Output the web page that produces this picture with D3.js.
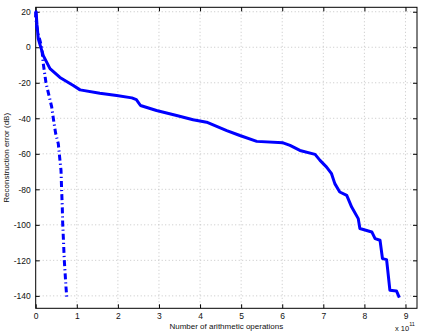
<!DOCTYPE html>
<html><head><meta charset="utf-8">
<script src="https://cdn.jsdelivr.net/npm/d3@7"></script>
<style>body{margin:0;background:#fff}svg{display:block}text{font-family:"Liberation Sans",Arial,sans-serif}</style>
</head><body><svg id="c" width="422" height="332"></svg>
<script>
const xTicks=[0,1,2,3,4,5,6,7,8,9];
const yTicks=[20,0,-20,-40,-60,-80,-100,-120,-140];
// solid series: x in 1e11 ops, y in dB
const solidX=[0.0,0.01,0.03,0.063,0.185,0.348,0.59,0.915,1.08,1.56,1.97,2.34,2.45,2.55,2.94,3.43,3.83,4.16,4.65,4.97,5.38,6.02,6.19,6.43,6.80,6.92,7.08,7.20,7.28,7.40,7.57,7.69,7.85,7.89,8.18,8.26,8.38,8.44,8.54,8.62,8.78,8.85];
const solidY=[17,20,13,4.7,-4.7,-12,-17,-21.5,-24,-25.9,-27.2,-28.5,-29.5,-32.8,-35.6,-38.4,-40.8,-42.2,-46.9,-49.7,-53,-53.8,-55.3,-58.1,-60.3,-63.7,-67.5,-71.2,-76.8,-81.5,-83.4,-90,-96.5,-102.1,-104,-107.8,-108.7,-119,-119.6,-136.8,-137.2,-141];
// dash-dot series
const dashX=[0.0,0.02,0.063,0.146,0.185,0.25,0.39,0.43,0.487,0.55,0.574,0.616,0.63,0.647,0.657,0.672,0.696,0.737,0.755];
const dashY=[20,12,7.5,0,-9.3,-20,-33.7,-40.3,-48.7,-54.3,-60,-69.3,-79.6,-90,-99.3,-106.9,-120,-135,-140.6];

const svg=d3.select("#c");
const L=35.7,R=417,T=7.3,B=308.3;
const x=d3.scaleLinear().domain([0,9.28]).range([L,R]);
const y=d3.scaleLinear().domain([-147,22.5]).range([B,T]);

// grid
const g=svg.append("g").attr("stroke","#b8b8b8").attr("stroke-width",0.8).attr("stroke-dasharray","1,2.5");
xTicks.forEach(t=>{ if(t>0) g.append("line").attr("x1",x(t)).attr("x2",x(t)).attr("y1",T).attr("y2",B);});
yTicks.forEach(t=>g.append("line").attr("x1",L).attr("x2",R).attr("y1",y(t)).attr("y2",y(t)));

const fs="8.5px";
const ax=svg.append("g").attr("transform",`translate(0,${B})`).call(d3.axisBottom(x).tickValues(xTicks).tickSize(-4).tickPadding(5).tickFormat(d3.format("d")));
const axT=svg.append("g").attr("transform",`translate(0,${T})`).call(d3.axisTop(x).tickValues(xTicks).tickSize(-4).tickFormat(""));
const ay=svg.append("g").attr("transform",`translate(${L},0)`).call(d3.axisLeft(y).tickValues(yTicks).tickSize(-4).tickPadding(5).tickFormat(d=>String(d).replace("−","-")));
const ayR=svg.append("g").attr("transform",`translate(${R},0)`).call(d3.axisRight(y).tickValues(yTicks).tickSize(-4).tickFormat(""));
[ax,axT,ay,ayR].forEach(a=>{a.select(".domain").remove();a.selectAll("line").attr("stroke","#000");a.selectAll("text").attr("font-size",fs).attr("fill","#111").attr("font-family","Liberation Sans, Arial, sans-serif");});
svg.append("rect").attr("x",L).attr("y",T).attr("width",R-L).attr("height",B-T).attr("fill","none").attr("stroke","#000").attr("stroke-width",1);

const line=d3.line().x(d=>x(d[0])).y(d=>y(d[1]));
svg.append("path").datum(solidX.map((v,i)=>[v,solidY[i]])).attr("d",line).attr("fill","none").attr("stroke","#0000ff").attr("stroke-width",3).attr("stroke-linejoin","round");
svg.append("path").datum(dashX.map((v,i)=>[v,dashY[i]])).attr("d",line).attr("fill","none").attr("stroke","#0000ff").attr("stroke-width",3).attr("stroke-dasharray","6,3,1.2,3");

svg.append("text").attr("x",(L+R)/2).attr("y",329).attr("text-anchor","middle").attr("font-size","8px").attr("fill","#111").text("Number of arithmetic operations");
svg.append("text").attr("transform",`translate(9,${(T+B)/2}) rotate(-90)`).attr("text-anchor","middle").attr("font-size","8px").attr("fill","#111").text("Reconstruction error (dB)");
const ex=svg.append("text").attr("x",395).attr("y",331).attr("font-size","7.5px").attr("fill","#111");
ex.append("tspan").text("x 10");
ex.append("tspan").attr("font-size","5.5px").attr("dy",-5).text("11");
</script></body></html>
